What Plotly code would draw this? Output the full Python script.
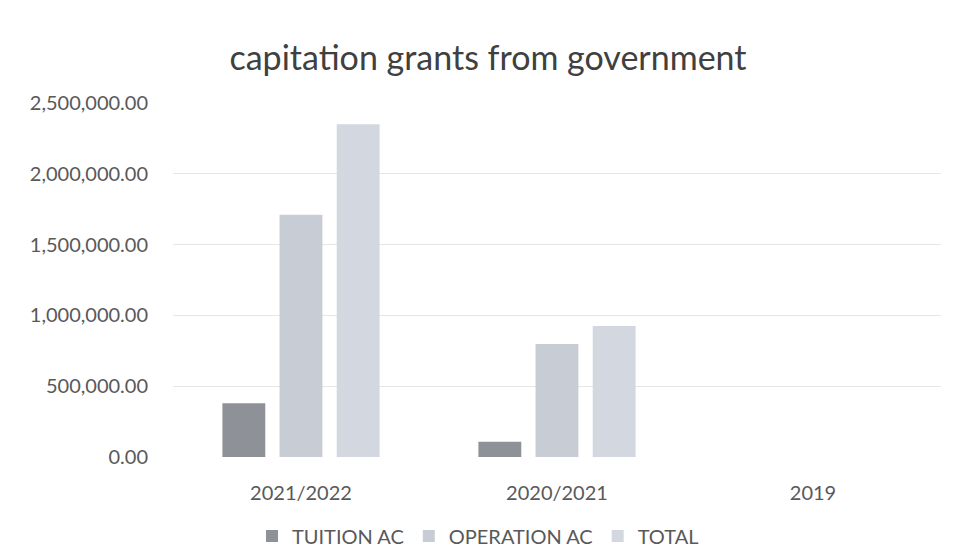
import plotly.graph_objects as go

categories = ["2021/2022", "2020/2021", "2019"]
tuition_ac = [380000, 108000, 0]
operation_ac = [1710000, 798000, 0]
total = [2350000, 925000, 0]
series_names = ["TUITION AC", "OPERATION AC", "TOTAL"]
colors = ["#8e9298", "#c8ccd5", "#d3d7e0"]
y_ticks = [0, 500000, 1000000, 1500000, 2000000, 2500000]

font_family = "Lato, 'Open Sans', sans-serif"

fig = go.Figure()
for name, vals, col in zip(series_names, [tuition_ac, operation_ac, total], colors):
    fig.add_trace(go.Bar(x=categories, y=vals, name=name, marker=dict(color=col, line=dict(width=0))))

fig.update_layout(
    width=956, height=552,
    margin=dict(l=173, r=15, t=103, b=95, autoexpand=False),
    paper_bgcolor="white", plot_bgcolor="white",
    barmode="group", bargap=0.33, bargroupgap=0.25,
    title=dict(text="capitation grants from government", x=488 / 956, xanchor="center",
               xref="container", y=1 - 58 / 552, yanchor="middle",
               font=dict(family=font_family, size=34, color="#404040")),
    font=dict(family=font_family, color="#595959"),
    xaxis=dict(tickfont=dict(size=20, color="#595959"), showline=False, ticks="",
               range=[-0.5, 2.5], ticklabelstandoff=22),
    yaxis=dict(range=[0, 2500000], tickvals=y_ticks, tickformat=",.2f",
               tickfont=dict(size=20, color="#595959"), showgrid=True,
               gridcolor="#e6e6e6", gridwidth=1, zeroline=False, ticks="",
               ticklabelstandoff=24),
    legend=dict(orientation="h", xref="container", x=0.5, xanchor="center",
                yref="container", y=16 / 552, yanchor="middle",
                font=dict(size=20, color="#595959"), itemwidth=30, traceorder="normal"),
)

fig.write_html("out.html")
